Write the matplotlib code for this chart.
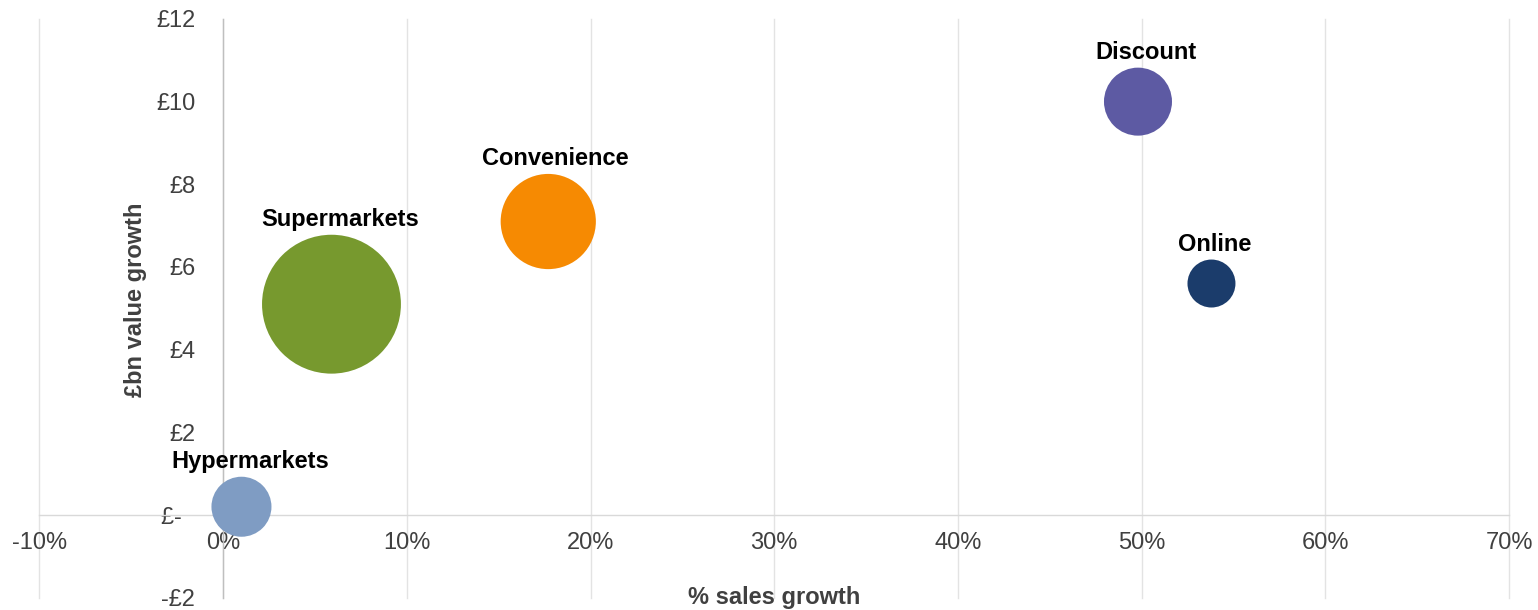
import matplotlib.pyplot as plt
import numpy as np

plt.switch_backend("Agg")
plt.rcParams["font.family"] = ["Liberation Sans", "DejaVu Sans"]

# --- data ---
channels = ["Hypermarkets", "Supermarkets", "Convenience", "Discount", "Online"]
sales_growth = [1.0, 5.9, 17.7, 49.8, 53.8]          # % sales growth
value_growth = [0.2, 5.1, 7.1, 10.0, 5.6]            # £bn value growth
bubble_size = [15.5, 83.0, 39.0, 19.9, 9.9]          # relative bubble size (area)

x_ticks = [-10, 0, 10, 20, 30, 40, 50, 60, 70]
x_tick_labels = ["-10%", "0%", "10%", "20%", "30%", "40%", "50%", "60%", "70%"]
y_ticks = [-2, 0, 2, 4, 6, 8, 10, 12]
y_tick_labels = ["-£2", "£-  ", "£2", "£4", "£6", "£8", "£10", "£12"]

colors = ["#7f9cc3", "#77992e", "#f68a02", "#5d5aa3", "#1b3c6b"]
label_dx = [6, 6, 5, 6, 2]  # small horizontal nudges of the data labels (points)

TEXT_GREY = "#404040"
FONT_SIZE = 17
MAX_DIAMETER_PT = 100.0

fig = plt.figure(figsize=(15.38, 6.10), dpi=100)
ax = fig.add_axes([0.0256, 0.0202, 0.9556, 0.9487])

diam = MAX_DIAMETER_PT * np.sqrt(np.array(bubble_size) / max(bubble_size))
ax.scatter(
    sales_growth,
    value_growth,
    s=diam**2,
    c=colors,
    edgecolors="none",
    zorder=3,
    clip_on=False,
)

for name, x, y, d, dx in zip(channels, sales_growth, value_growth, diam, label_dx):
    ax.annotate(
        name,
        (x, y),
        xytext=(dx, d / 2 + 6.5),
        textcoords="offset points",
        ha="center",
        va="baseline",
        fontsize=FONT_SIZE,
        fontweight="bold",
        color="black",
        zorder=4,
    )

ax.set_xlim(-10, 70)
ax.set_ylim(-2, 12)
ax.set_xticks(x_ticks)
ax.set_xticklabels(x_tick_labels)
ax.set_yticks(y_ticks)
ax.set_yticklabels(y_tick_labels)

ax.tick_params(axis="both", length=0, labelsize=FONT_SIZE, labelcolor=TEXT_GREY)
ax.tick_params(axis="x", pad=12)
ax.tick_params(axis="y", pad=20)

ax.spines["top"].set_visible(False)
ax.spines["right"].set_visible(False)
ax.spines["left"].set_position(("data", 0))
ax.spines["bottom"].set_position(("data", 0))
ax.spines["left"].set_color("#bfbfbf")
ax.spines["bottom"].set_color("#d9d9d9")
ax.spines["left"].set_linewidth(1)
ax.spines["bottom"].set_linewidth(1)

ax.set_axisbelow(True)
ax.grid(axis="x", color="#e3e3e3", linewidth=1)
for gl in ax.get_xgridlines():
    gl.set_clip_on(False)

ax.set_xlabel("% sales growth", fontsize=FONT_SIZE, fontweight="bold", color=TEXT_GREY)
ax.xaxis.set_label_coords(0.5, 0.0)
ax.xaxis.label.set_verticalalignment("center")

ax.set_ylabel("£bn value growth", fontsize=FONT_SIZE, fontweight="bold", color=TEXT_GREY)
ax.yaxis.set_label_coords(0.0655, 0.515)
ax.yaxis.label.set_verticalalignment("center")

fig.savefig("out.png", dpi=100)
